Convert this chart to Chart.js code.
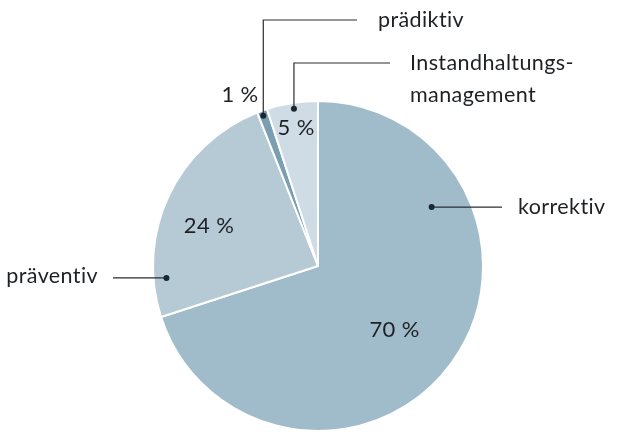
<!DOCTYPE html>
<html>
<head>
<meta charset="utf-8">
<script src="https://cdn.jsdelivr.net/npm/chart.js@4"></script>
<style>
  html, body { margin: 0; padding: 0; background: #fff; }
  #wrap { width: 630px; height: 446px; }
</style>
</head>
<body>
<div id="wrap"><canvas id="chart"></canvas></div>
<script>
// data
const labels = ["korrektiv", "präventiv", "prädiktiv", "Instandhaltungsmanagement"];
const values = [70, 24, 1, 5];
const colors = ["#a0bccb", "#b6cad6", "#7b9eb1", "#cfdce5"];

// label placement per slice: angle (deg, clockwise from top) and radius (px) of value text,
// plus the dot of the leader line and where the callout text goes
const valuePos = [[130, 100], [290, 116], [335.5, 188], [351, 140]];
const dotPos = [[62.6, 128], [265.5, 152], [340, 160], [351.3, 159]];
const calloutText = [["korrektiv"], ["präventiv"], ["prädiktiv"], ["Instandhaltungs-", "management"]];

const FONT = "Lato, 'Open Sans', sans-serif";

function polar(cx, cy, deg, r) {
    const a = (deg - 90) * Math.PI / 180;
    return {x: cx + r * Math.cos(a), y: cy + r * Math.sin(a)};
}

const calloutPlugin = {
    id: "callouts",
    afterDatasetsDraw(chart) {
        const ctx = chart.ctx;
        const arc = chart.getDatasetMeta(0).data[0];
        const cx = arc.x, cy = arc.y;
        ctx.save();
        ctx.fillStyle = "#1e2124";
        ctx.strokeStyle = "#2a2d30";
        ctx.lineWidth = 1.2;
        ctx.letterSpacing = "0.4px"; // keeps "ti" from turning into a ligature

        // value texts
        ctx.font = "22px " + FONT;
        ctx.textAlign = "center";
        ctx.textBaseline = "middle";
        values.forEach((v, i) => {
            const p = polar(cx, cy, valuePos[i][0], valuePos[i][1]);
            ctx.fillText(v + " %", p.x, p.y);
        });

        // leader lines
        const dots = dotPos.map(d => polar(cx, cy, d[0], d[1]));
        const paths = [
            [dots[0], {x: 502, y: dots[0].y}],
            [dots[1], {x: 113, y: dots[1].y}],
            [dots[2], {x: dots[2].x, y: 20}, {x: 357, y: 20}],
            [dots[3], {x: dots[3].x, y: 63}, {x: 390, y: 63}]
        ];
        paths.forEach(pts => {
            ctx.beginPath();
            ctx.moveTo(pts[0].x, pts[0].y);
            pts.slice(1).forEach(p => ctx.lineTo(p.x, p.y));
            ctx.stroke();
        });
        ctx.fillStyle = "#1a2630";
        dots.forEach(d => {
            ctx.beginPath();
            ctx.arc(d.x, d.y, 3, 0, Math.PI * 2);
            ctx.fill();
        });

        // callout texts
        ctx.fillStyle = "#1e2124";
        ctx.font = "21.5px " + FONT;
        ctx.textBaseline = "alphabetic";
        ctx.textAlign = "left";
        ctx.fillText(calloutText[0][0], 518, dots[0].y + 7);
        ctx.textAlign = "right";
        ctx.fillText(calloutText[1][0], 98, dots[1].y + 5);
        ctx.textAlign = "left";
        ctx.fillText(calloutText[2][0], 378, 27);
        ctx.fillText(calloutText[3][0], 410, 70);
        ctx.fillText(calloutText[3][1], 410, 102);
        ctx.restore();
    }
};

new Chart(document.getElementById("chart"), {
    type: "pie",
    data: {
        labels: labels,
        datasets: [{
            data: values,
            backgroundColor: colors,
            borderColor: "#ffffff",
            borderWidth: 2
        }]
    },
    options: {
        responsive: true,
        maintainAspectRatio: false,
        animation: false,
        layout: {padding: {top: 100, bottom: 14, left: 152, right: 146}},
        plugins: {legend: {display: false}, tooltip: {enabled: false}}
    },
    plugins: [calloutPlugin]
});
</script>
</body>
</html>
